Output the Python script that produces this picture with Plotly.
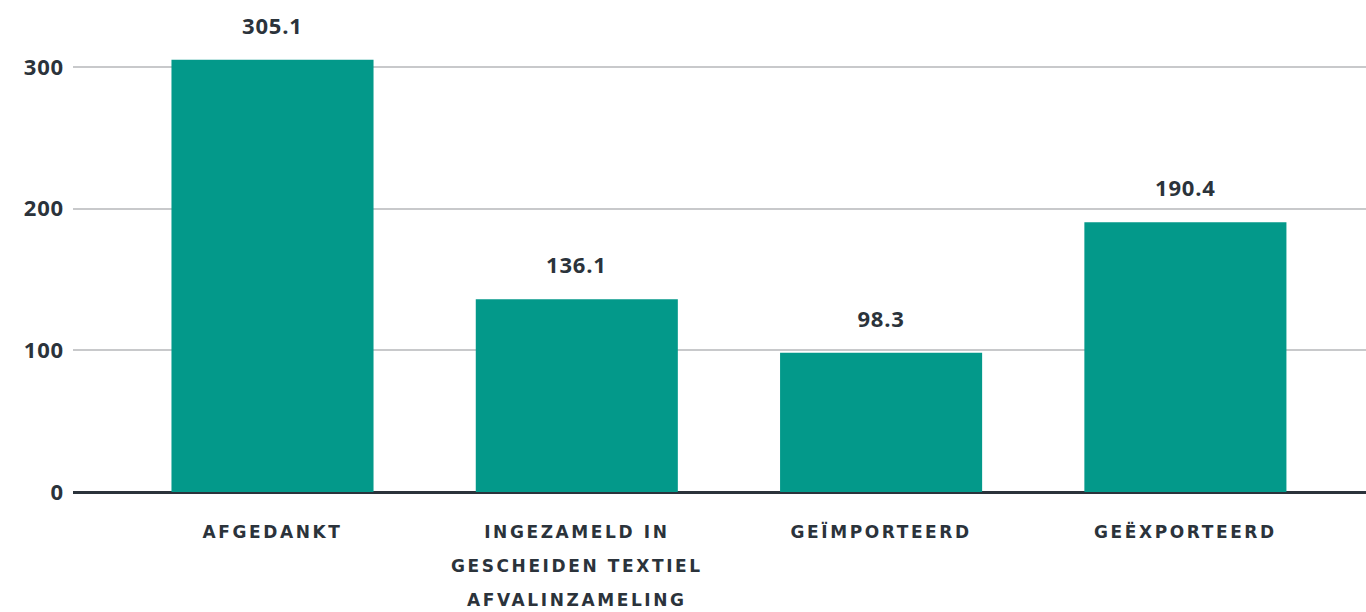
import plotly.graph_objects as go

categories = ["AFGEDANKT", "INGEZAMELD IN GESCHEIDEN TEXTIEL AFVALINZAMELING", "GEÏMPORTEERD", "GEËXPORTEERD"]
category_lines = [["AFGEDANKT"], ["INGEZAMELD IN", "GESCHEIDEN TEXTIEL", "AFVALINZAMELING"], ["GEÏMPORTEERD"], ["GEËXPORTEERD"]]
values = [305.1, 136.1, 98.3, 190.4]
value_labels = ["305.1", "136.1", "98.3", "190.4"]
y_ticks = [0, 100, 200, 300]

BAR = "#03998a"
TEXT = "#2b333b"

ticktext = ["<br>".join(f"<span style='font-size:17px'>{ln}</span>" for ln in lines) for lines in category_lines]

fig = go.Figure()
fig.add_trace(go.Bar(
    x=categories, y=values, marker=dict(color=BAR, line=dict(width=0)),
    width=0.664, hoverinfo="skip",
))

for c, v, t in zip(categories, values, value_labels):
    fig.add_annotation(x=c, y=v, text=t, showarrow=False, yanchor="middle", yshift=35,
                       font=dict(family="Open Sans", size=22, color=TEXT, weight="bold"))

fig.update_layout(
    width=1366, height=612,
    margin=dict(l=73, r=0, t=20, b=120),
    paper_bgcolor="white", plot_bgcolor="white",
    showlegend=False,
    xaxis=dict(
        type="category", range=[-0.6556, 3.5935],
        tickmode="array", tickvals=categories, ticktext=ticktext,
        tickfont=dict(family="DejaVu Sans", size=26, color=TEXT, weight="bold"),
        showgrid=False, showline=False, ticks="", ticklabelstandoff=19,
    ),
    yaxis=dict(
        range=[0, 333.2], tickmode="array", tickvals=y_ticks,
        tickfont=dict(family="Open Sans", size=22, color=TEXT, weight="bold"),
        showgrid=True, gridcolor="#c8c9cb", gridwidth=2,
        zeroline=True, zerolinecolor=TEXT, zerolinewidth=2.5,
        showline=False, ticks="", ticklabelstandoff=8,
    ),
)

post = """
document.body.style.margin='0';
document.querySelectorAll('.xtick text').forEach(function(t){ t.style.letterSpacing='2.6px'; });
document.querySelectorAll('.ytick text, .annotation-text').forEach(function(t){ t.style.letterSpacing='0.8px'; });
"""
fig.write_html("out.html", post_script=post, config={"displayModeBar": False})
